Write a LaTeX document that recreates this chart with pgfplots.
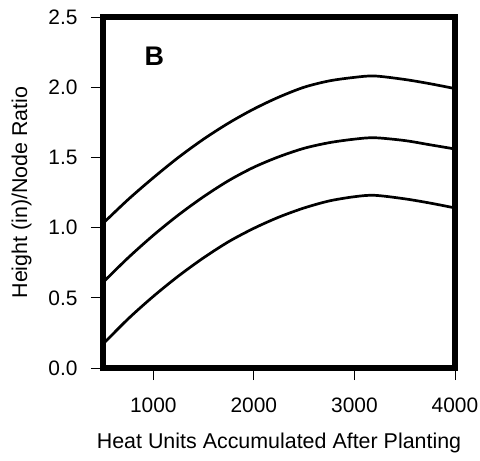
\documentclass[border=0pt]{standalone}
\usepackage{fontspec}
\setmainfont{Liberation Sans}
\usepackage{pgfplots}
\pgfplotsset{compat=1.18}

\begin{document}
\begin{tikzpicture}
\begin{axis}[
    scale only axis,
    width=352bp, height=351bp,
    xmin=500, xmax=4000,
    ymin=0, ymax=2.5,
    xtick={1000,2000,3000,4000},
    ytick={0,0.5,1,1.5,2,2.5},
    tick align=outside,
    tick pos=left,
    major tick length=12bp,
    tick style={black, line width=0.8bp},
    axis line style={line width=6bp},
    font=\fontsize{21}{25}\selectfont,
    /pgf/number format/assume math mode=true,
    /pgf/number format/1000 sep={},
    yticklabel style={xshift=-10bp, /pgf/number format/fixed, /pgf/number format/fixed zerofill, /pgf/number format/precision=1},
    xticklabel style={yshift=-14bp},
    xlabel={Heat Units Accumulated After Planting},
    ylabel={Height (in)/Node Ratio},
    xlabel style={yshift=-14bp, font=\fontsize{21.5}{25}\selectfont},
    ylabel style={yshift=10bp, font=\fontsize{21.5}{25}\selectfont},
    clip=false,
]
\addplot[black, line width=2.7bp, smooth] coordinates {
    (500,1.03)(750,1.20)(1000,1.355)(1250,1.50)(1500,1.63)(1750,1.745)(2000,1.845)(2250,1.93)
    (2500,2.00)(2750,2.045)(3000,2.07)(3200,2.08)(3500,2.055)(3750,2.025)(4000,1.99)
};
\addplot[black, line width=2.7bp, smooth] coordinates {
    (500,0.61)(750,0.785)(1000,0.945)(1250,1.09)(1500,1.22)(1750,1.335)(2000,1.43)(2250,1.505)
    (2500,1.565)(2750,1.605)(3000,1.63)(3200,1.64)(3500,1.62)(3750,1.59)(4000,1.56)
};
\addplot[black, line width=2.7bp, smooth] coordinates {
    (500,0.17)(750,0.35)(1000,0.51)(1250,0.655)(1500,0.785)(1750,0.90)(2000,0.995)(2250,1.075)
    (2500,1.14)(2750,1.19)(3000,1.22)(3200,1.23)(3500,1.205)(3750,1.175)(4000,1.14)
};
\node[font=\fontsize{27}{30}\selectfont\bfseries] at (axis cs:1010,2.22) {B};
\end{axis}
\pgfresetboundingbox
\useasboundingbox (-103bp,-93bp) rectangle (377bp,368bp);
\end{tikzpicture}
\end{document}
